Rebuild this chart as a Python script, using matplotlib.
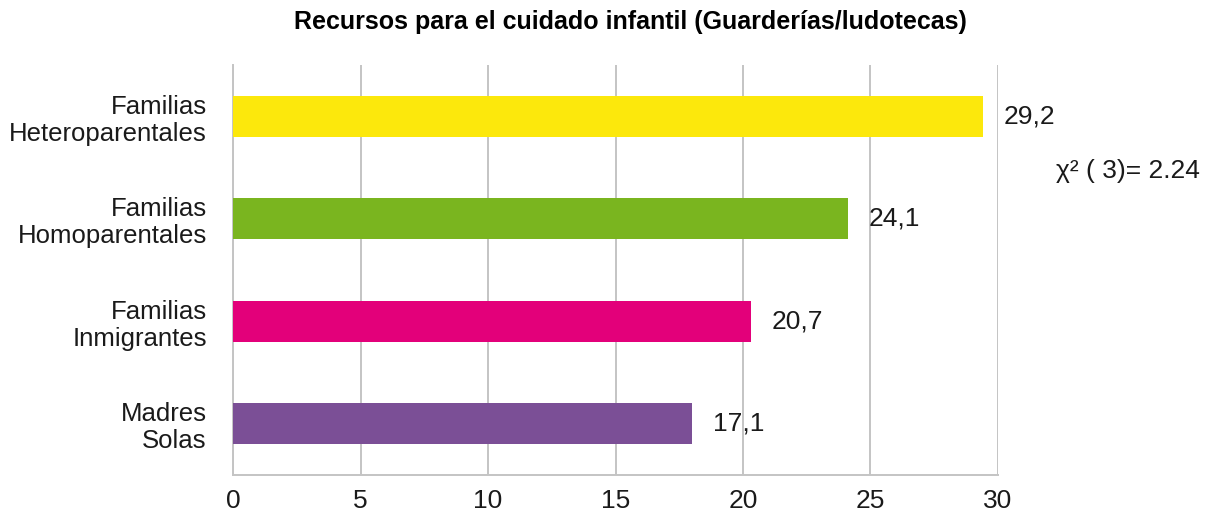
import matplotlib
matplotlib.use("Agg")
import matplotlib.pyplot as plt

plt.rcParams["font.family"] = ["Liberation Sans", "DejaVu Sans"]

# data (top to bottom as in the picture)
categories = ["Familias\nHeteroparentales", "Familias\nHomoparentales",
              "Familias\nInmigrantes", "Madres\nSolas"]
bar_lengths = [29.4, 24.1, 20.3, 18.0]   # bar ends as drawn
value_labels = ["29,2", "24,1", "20,7", "17,1"]
colors = ["#FCE80C", "#7AB51F", "#E3007A", "#7B4F96"]
x_ticks = [0, 5, 10, 15, 20, 25, 30]
title = "Recursos para el cuidado infantil (Guarderías/ludotecas)"
stat_text = "χ² ( 3)= 2.24"

grid_color = "#c4c4c4"
text_color = "#1a1a1a"

fig = plt.figure(figsize=(12.05, 5.14), dpi=100)
ax = fig.add_axes([0.1934, 0.0759, 0.6348, 0.7976])

ypos = list(range(len(categories)))
ax.barh(ypos, bar_lengths, height=0.4, color=colors, zorder=3)

for y, v, lab in zip(ypos, bar_lengths, value_labels):
    ax.annotate(lab, (v, y), xytext=(15, 0), textcoords="offset points",
                va="center", ha="left", fontsize=19, color=text_color)

ax.set_xlim(0, 30)
ax.set_ylim(3.5, -0.5)
ax.set_xticks(x_ticks)
ax.set_yticks(ypos)
ax.set_yticklabels(categories, fontsize=18.5, color=text_color, ha="right",
                   linespacing=1.15)
ax.tick_params(axis="x", length=0, pad=10, labelsize=19, labelcolor=text_color)
ax.tick_params(axis="y", length=0, pad=19)

ax.grid(axis="x", color=grid_color, linewidth=1.4, zorder=0)
ax.grid(axis="y", visible=False)
for side in ["top", "right"]:
    ax.spines[side].set_visible(False)
for side in ["left", "bottom"]:
    ax.spines[side].set_color(grid_color)
    ax.spines[side].set_linewidth(1.4)

fig.text(0.5228, 0.957, title, ha="center", va="center", fontsize=18,
         fontweight="bold", color="black")
fig.text(0.996, 0.667, stat_text, ha="right", va="center", fontsize=19,
         color=text_color)

fig.savefig("out.png", dpi=100)
